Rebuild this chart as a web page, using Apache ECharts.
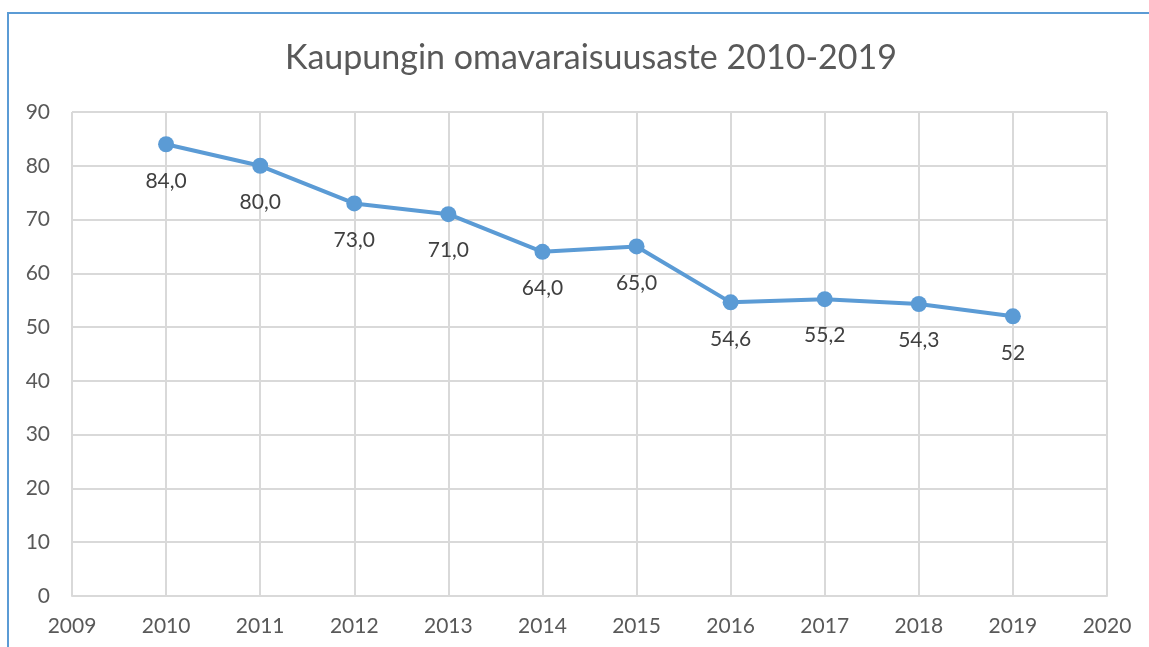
<!DOCTYPE html>
<html>
<head>
<meta charset="utf-8">
<script src="https://cdn.jsdelivr.net/npm/echarts@6/dist/echarts.min.js"></script>
<style>
  html,body{margin:0;padding:0;background:#fff;}
  #chart{width:1149px;height:647px;position:relative;}
  .frame{position:absolute;left:7px;top:12px;right:-2px;bottom:-2px;border-left:2px solid #5B9BD5;border-top:2px solid #5B9BD5;pointer-events:none;}
</style>
</head>
<body>
<div id="chart"></div>
<div class="frame"></div>
<script>
const years = [2010, 2011, 2012, 2013, 2014, 2015, 2016, 2017, 2018, 2019]
const ratio = [84.0, 80.0, 73.0, 71.0, 64.0, 65.0, 54.6, 55.2, 54.3, 52]
const pointLabels = ['84,0', '80,0', '73,0', '71,0', '64,0', '65,0', '54,6', '55,2', '54,3', '52']

const chart = echarts.init(document.getElementById('chart'))
const font = 'Lato, "Open Sans", sans-serif'

const option = {
  animation: false,
  title: {
    text: 'Kaupungin omavaraisuusaste 2010-2019',
    left: 280,
    top: 36,
    textStyle: {
      color: '#595959',
      fontSize: 34,
      fontWeight: 'normal',
      fontFamily: font
    }
  },
  grid: {
    left: 72,
    right: 42,
    top: 112,
    bottom: 51
  },
  xAxis: {
    type: 'value',
    min: 2009,
    max: 2020,
    interval: 1,
    axisLine: { show: true, lineStyle: { color: '#D9D9D9', width: 2 } },
    axisTick: { show: false },
    splitLine: { show: true, lineStyle: { color: '#D9D9D9', width: 2 } },
    axisLabel: {
      color: '#595959',
      fontSize: 21,
      fontFamily: font,
      margin: 20,
      formatter: v => String(v)
    }
  },
  yAxis: {
    type: 'value',
    min: 0,
    max: 90,
    interval: 10,
    axisLine: { show: false },
    axisTick: { show: false },
    splitLine: { show: true, lineStyle: { color: '#D9D9D9', width: 2 } },
    axisLabel: {
      color: '#595959',
      fontSize: 21,
      fontFamily: font,
      margin: 22
    }
  },
  series: [
    {
      type: 'line',
      data: years.map((y, i) => [y, ratio[i]]),
      symbol: 'circle',
      symbolSize: 16,
      lineStyle: { color: '#5B9BD5', width: 4 },
      itemStyle: { color: '#5B9BD5' },
      label: {
        show: true,
        position: 'bottom',
        distance: 18,
        color: '#404040',
        fontSize: 21,
        fontFamily: font,
        formatter: p => pointLabels[p.dataIndex]
      }
    }
  ]
}
chart.setOption(option)
</script>
</body>
</html>
